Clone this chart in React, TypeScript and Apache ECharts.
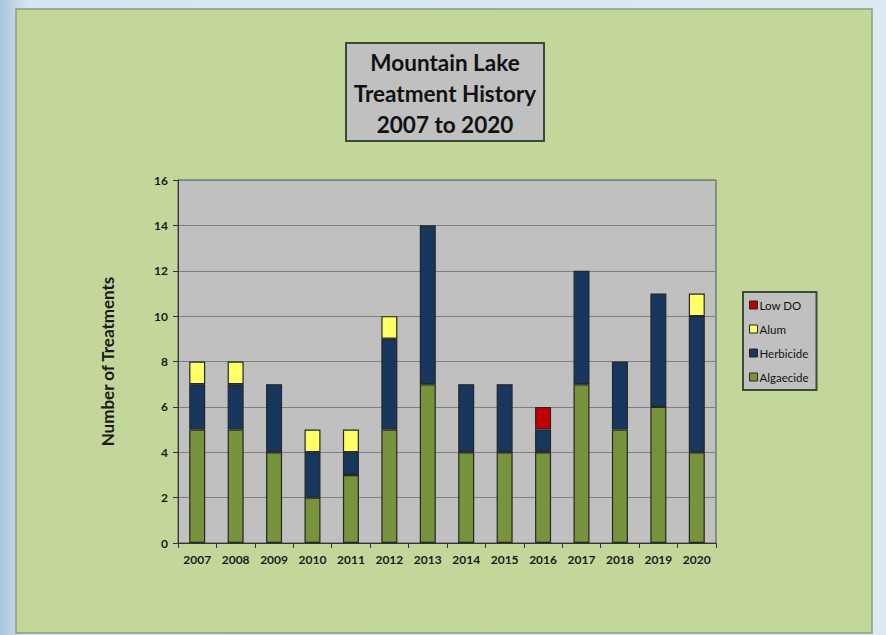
import React, { useEffect, useRef } from "react";
import * as echarts from "echarts";

const years = ["2007","2008","2009","2010","2011","2012","2013","2014","2015","2016","2017","2018","2019","2020"];
const algaecide = [5,5,4,2,3,5,7,4,4,4,7,5,6,4];
const herbicide = [2,2,3,2,1,4,7,3,3,1,5,3,5,6];
const alum = [1,1,0,1,1,1,0,0,0,0,0,0,0,1];
const lowDO = [0,0,0,0,0,0,0,0,0,1,0,0,0,0];
const legendOrder = ["Low DO","Alum","Herbicide","Algaecide"];

const FONT = "Lato, 'Open Sans', sans-serif";

export default function App() {
  const ref = useRef<HTMLDivElement>(null);
  useEffect(() => {
    if (!ref.current) return;
    const chart = echarts.init(ref.current, null, { renderer: "svg" });
    const nz = (a: number[]) => a.map((v) => (v === 0 ? null : v));
    const mk = (name: string, data: number[], color: string) => ({
      name,
      type: "bar",
      stack: "t",
      data: nz(data),
      barWidth: 16,
      itemStyle: { color, borderColor: "#262626", borderWidth: 1.2 },
    });
    chart.setOption({
      animation: false,
      backgroundColor: {
        type: "linear", x: 0, y: 0, x2: 1, y2: 0,
        colorStops: [
          { offset: 0, color: "#a8c3da" },
          { offset: 0.03, color: "#d6e5f1" },
          { offset: 1, color: "#dde9f3" },
        ],
      },
      graphic: [
        {
          type: "rect", z: -10, silent: true,
          shape: { x: 16, y: 9, width: 856, height: 624 },
          style: { fill: "#c4d79b", stroke: "#8d9a80", lineWidth: 1.5 },
        },
        {
          type: "rect", z: 5,
          shape: { x: 346, y: 43, width: 198, height: 98 },
          style: { fill: "#c0c0c0", stroke: "#3e4a38", lineWidth: 2 },
        },
        {
          type: "text", z: 6,
          x: 445, y: 93,
          style: {
            text: "Mountain Lake\nTreatment History\n2007 to 2020",
            fontFamily: FONT, fontWeight: "bold", fontSize: 22.5,
            lineHeight: 31, fill: "#111", align: "center", verticalAlign: "middle",
          },
        },
      ],
      legend: {
        orient: "vertical",
        left: 743, top: 292,
        data: legendOrder.map((n) => ({ name: n, icon: "rect" })),
        backgroundColor: "#c0c0c0",
        borderColor: "#3e4a38",
        borderWidth: 2,
        padding: [7, 8, 7, 6],
        itemWidth: 8, itemHeight: 8,
        itemGap: 12,
        itemStyle: { borderColor: "#262626", borderWidth: 1 },
        textStyle: { fontFamily: FONT, fontSize: 11.5, color: "#111", padding: [0, 0, 0, -3] },
        selectedMode: false,
      },
      grid: { left: 178, right: 170, top: 180, bottom: 92, show: true, backgroundColor: "#c0c0c0", borderColor: "#555", borderWidth: 1 },
      xAxis: {
        type: "category",
        data: years,
        axisLine: { lineStyle: { color: "#333" } },
        axisTick: { show: true, length: 5, lineStyle: { color: "#333" } },
        axisLabel: { fontFamily: FONT, fontWeight: "bold", fontSize: 12, color: "#1a1a1a", margin: 10 },
      },
      yAxis: {
        type: "value",
        min: 0, max: 16, interval: 2,
        name: "Number of Treatments",
        nameLocation: "middle",
        nameGap: 62,
        nameTextStyle: { fontFamily: FONT, fontWeight: "bold", fontSize: 17, color: "#1a1a1a" },
        axisLine: { show: true, lineStyle: { color: "#333" } },
        axisTick: { show: true, length: 5, lineStyle: { color: "#333" } },
        axisLabel: { fontFamily: FONT, fontWeight: "bold", fontSize: 12, color: "#1a1a1a", margin: 10 },
        splitLine: { lineStyle: { color: "#7f7f7f", width: 1 } },
      },
      series: [
        mk("Algaecide", algaecide, "#77933c"),
        mk("Herbicide", herbicide, "#17375e"),
        mk("Alum", alum, "#ffff66"),
        mk("Low DO", lowDO, "#c00000"),
      ],
    });
    return () => chart.dispose();
  }, []);
  return <div ref={ref} style={{ position: "fixed", left: 0, top: 0, width: 886, height: 635 }} />;
}
